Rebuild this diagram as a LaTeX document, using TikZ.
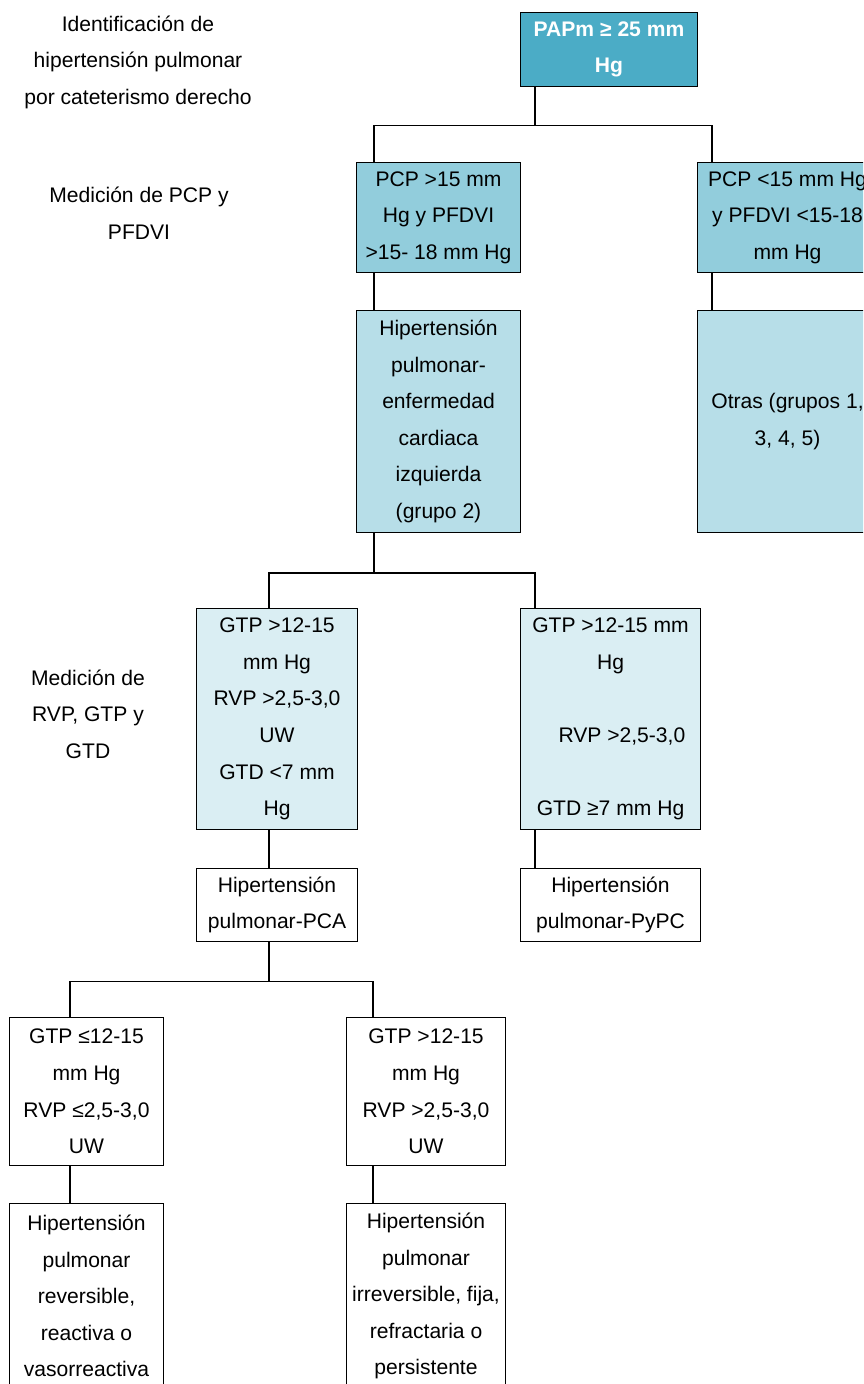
\documentclass[tikz,border=0pt]{standalone}
\usepackage{fontspec}
\setmainfont{Liberation Sans}
\usepackage{xcolor}
\usepackage{tikz}
\usetikzlibrary{positioning, calc}

\definecolor{papmfill}{HTML}{4BACC6}
\definecolor{pcpfill}{HTML}{92CDDC}
\definecolor{grupofill}{HTML}{B7DEE8}
\definecolor{gtpfill}{HTML}{DAEEF3}

\begin{document}
\begin{tikzpicture}[
    x=0.02cm, y=-0.02cm,
    box/.style={
      draw, rectangle, anchor=north west,
      align=center, inner xsep=0.5pt, inner ysep=0pt,
      font=\fontsize{12}{20.8}\selectfont, line width=0.6pt
    },
    papmbox/.style={box, fill=papmfill, text=white,
      font=\fontsize{12}{20.8}\selectfont\bfseries},
    pcpbox/.style={box, fill=pcpfill},
    grupobox/.style={box, fill=grupofill},
    gtpbox/.style={box, fill=gtpfill},
    plainbox/.style={box, fill=white},
    stage/.style={align=center, font=\fontsize{12}{20.8}\selectfont},
    link/.style={line width=0.6pt}
  ]

    \useasboundingbox (0,0) rectangle (863,1384);
    \clip (0,0) rectangle (863,1384);

    % ── Stage labels ──
    \node[stage] (ident) at (138,62)
      {Identificación de\\hipertensión pulmonar\\por cateterismo derecho};
    \node[stage] (medpcp) at (139,213) {Medición de PCP y\\PFDVI};
    \node[stage] (medrvp) at (88,714) {Medición de\\RVP, GTP y\\GTD};

    % ── Cateterismo ──
    \node[papmbox, minimum width=3.54cm, minimum height=1.48cm]
      (papm) at (520,12) {PAPm ≥ 25 mm\\Hg};

    % ── PCP y PFDVI ──
    \node[pcpbox, minimum width=3.28cm, minimum height=2.2cm]
      (pcpalto) at (356,162) {PCP >15 mm\\Hg y PFDVI\\>15- 18 mm Hg};
    \node[pcpbox, minimum width=3.6cm, minimum height=2.2cm]
      (pcpbajo) at (697,162) {PCP <15 mm Hg\\y PFDVI <15-18\\mm Hg};

    \draw[link] ([xshift=0.30cm]papm.south west) -- ++(0,38) coordinate (j1)
      -| ([xshift=0.36cm]pcpalto.north west);
    \draw[link] (j1) -| ([xshift=0.30cm]pcpbajo.north west);

    % ── Grupos ──
    \node[grupobox, minimum width=3.28cm, minimum height=4.44cm]
      (hpcard) at (356,310)
      {Hipertensión\\pulmonar-\\enfermedad\\cardiaca\\izquierda\\(grupo 2)};
    \node[grupobox, minimum width=3.6cm, minimum height=4.44cm]
      (otras) at (697,310) {Otras (grupos 1,\\3, 4, 5)};

    \draw[link] ([xshift=0.36cm]pcpalto.south west)
      -- ([xshift=0.36cm]hpcard.north west);
    \draw[link] ([xshift=0.30cm]pcpbajo.south west)
      -- ([xshift=0.30cm]otras.north west);

    % ── RVP, GTP y GTD ──
    \node[gtpbox, minimum width=3.22cm, minimum height=4.42cm]
      (gtpalto) at (196,608)
      {GTP >12-15\\mm Hg\\RVP >2,5-3,0\\UW\\GTD <7 mm\\Hg};
    \node[gtpbox, minimum width=3.6cm, minimum height=4.42cm]
      (gtdalto) at (520,608)
      {GTP >12-15 mm\\Hg\\[20.8pt]\hspace*{13pt}RVP >2,5-3,0\\[20.8pt]GTD ≥7 mm Hg};

    \draw[link] ([xshift=0.36cm]hpcard.south west) -- ++(0,40) coordinate (j2)
      -| ([xshift=1.46cm]gtpalto.north west);
    \draw[link] (j2) -| ([xshift=0.30cm]gtdalto.north west);

    % ── PCA / PyPC ──
    \node[plainbox, minimum width=3.22cm, minimum height=1.46cm]
      (pca) at (196,868) {Hipertensión\\pulmonar-PCA};
    \node[plainbox, minimum width=3.6cm, minimum height=1.46cm]
      (pypc) at (520,868) {Hipertensión\\pulmonar-PyPC};

    \draw[link] ([xshift=1.46cm]gtpalto.south west)
      -- ([xshift=1.46cm]pca.north west);
    \draw[link] ([xshift=0.30cm]gtdalto.south west)
      -- ([xshift=0.30cm]pypc.north west);

    % ── Reversibilidad ──
    \node[plainbox, minimum width=3.08cm, minimum height=2.96cm]
      (gtpbajo) at (9,1017) {GTP ≤12-15\\mm Hg\\RVP ≤2,5-3,0\\UW};
    \node[plainbox, minimum width=3.18cm, minimum height=2.96cm]
      (gtpmayor) at (346,1017) {GTP >12-15\\mm Hg\\RVP >2,5-3,0\\UW};

    \draw[link] ([xshift=1.46cm]pca.south west) -- ++(0,39) coordinate (j3)
      -| ([xshift=1.22cm]gtpbajo.north west);
    \draw[link] (j3) -| ([xshift=0.54cm]gtpmayor.north west);

    \node[plainbox, minimum width=3.08cm, minimum height=3.7cm]
      (reversible) at (9,1203)
      {Hipertensión\\pulmonar\\reversible,\\reactiva o\\vasorreactiva};
    \node[plainbox, minimum width=3.18cm, minimum height=3.7cm]
      (irreversible) at (346,1203)
      {Hipertensión\\pulmonar\\irreversible, fija,\\refractaria o\\persistente};

    \draw[link] ([xshift=1.22cm]gtpbajo.south west)
      -- ([xshift=1.22cm]reversible.north west);
    \draw[link] ([xshift=0.54cm]gtpmayor.south west)
      -- ([xshift=0.54cm]irreversible.north west);

  \end{tikzpicture}
\end{document}
